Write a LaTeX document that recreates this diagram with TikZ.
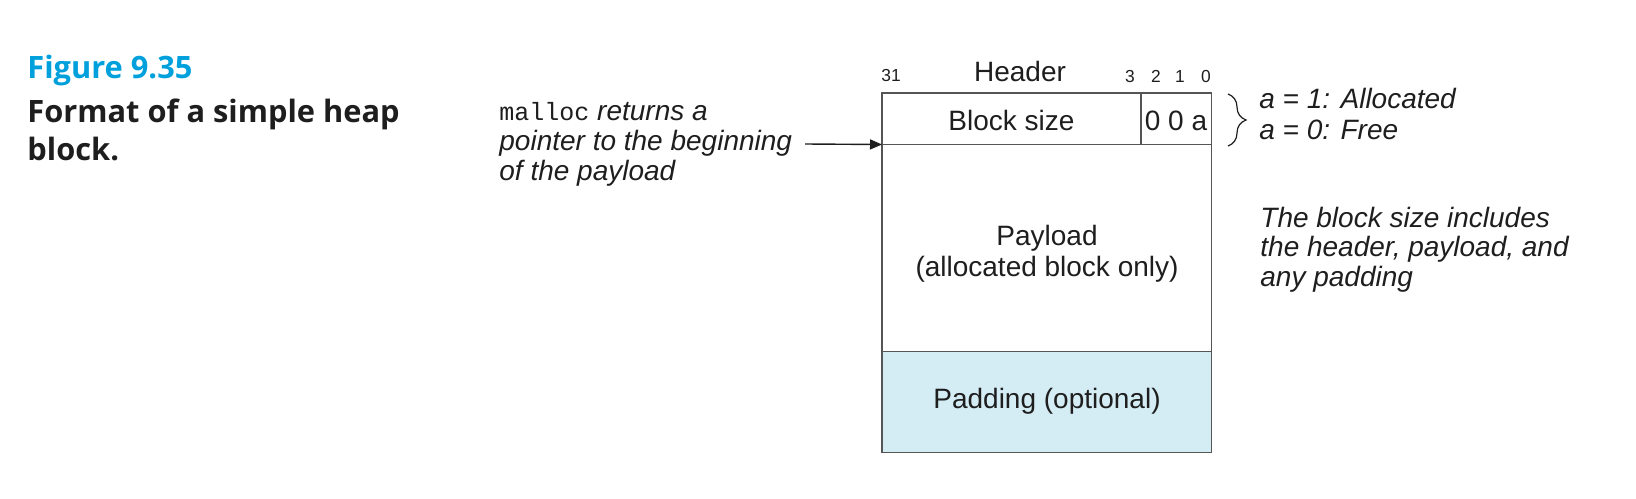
\documentclass[tikz,border=0pt]{standalone}
\usepackage{fontspec}
\setmainfont{Liberation Sans}
\newfontfamily\capfont{Open Sans}
\newfontfamily\codefont{Liberation Mono}
\usetikzlibrary{arrows.meta,decorations.pathreplacing}
\definecolor{capcyan}{RGB}{0,160,220}
\definecolor{padblue}{RGB}{212,236,244}
\definecolor{boxline}{RGB}{85,85,85}
\definecolor{ink}{RGB}{30,30,30}
\begin{document}
\begin{tikzpicture}[x=0.5pt,y=-0.5pt,
  txt/.style={font=\fontsize{14}{17}\selectfont, text=ink, inner sep=0pt},
  itx/.style={font=\fontsize{14}{17}\selectfont\itshape, text=ink, inner sep=0pt},
  small/.style={font=\fontsize{8.7}{10}\selectfont, text=ink, inner sep=0pt},
  captxt/.style={font=\capfont\bfseries\fontsize{15.4}{18}\selectfont, inner sep=0pt, anchor=base west},
  boxstyle/.style={draw=boxline, line width=0.7pt},
  ptr/.style={draw=ink, line width=0.7pt, -{Triangle[length=6pt,width=5pt]}},
  bracestyle/.style={draw=ink, line width=0.6pt, decorate, decoration={brace, amplitude=9pt}}]
\useasboundingbox (0,0) rectangle (1636,498);

% caption
\node[captxt, text=capcyan] (fig) at (27,78) {Figure 9.35};
\node[captxt, text=ink] (cap1) at (27,122) {Format of a simple heap};
\node[captxt, text=ink] (cap2) at (27,160) {block.};

% block
\fill[padblue] (882,351.5) rectangle (1211.5,452.5);
\draw[boxstyle] (882,93) rectangle (1211.5,452.5);
\draw[boxstyle] (882,144.5) -- (1211.5,144.5);
\draw[boxstyle] (882,351.5) -- (1211.5,351.5);
\draw[boxstyle] (1141,93) -- (1141,144.5);
\coordinate (hbl) at (882,144.5);

% header labels
\node[small, anchor=base] (b31) at (891,81) {31};
\node[txt, anchor=base] (hdr) at (1020,81) {Header};
\node[small, anchor=base] (b3) at (1130,82) {3};
\node[small, anchor=base] (b2) at (1156,82) {2};
\node[small, anchor=base] (b1) at (1180,82) {1};
\node[small, anchor=base] (b0) at (1206,82) {0};

\node[txt, anchor=base] (bsize) at (1011.5,130) {Block size};
\node[txt, anchor=base] (bits) at (1176,130) {0 0 a};
\node[txt, anchor=base] (pay1) at (1047,245) {Payload};
\node[txt, anchor=base] (pay2) at (1047,276) {(allocated block only)};
\node[txt, anchor=base] (pad) at (1047,408) {Padding (optional)};

% brace and flags
\draw[bracestyle] (1228,94) -- (1228,146);
\node[itx, anchor=base west] (a1) at (1259,108) {a = 1: Allocated};
\node[itx, anchor=base west] (a0) at (1259,139) {a = 0: Free};

% malloc note
\node[itx, anchor=base west] (m1) at (499,120) {{\upshape\codefont\fontsize{12.5}{15}\selectfont malloc} returns a};
\node[itx, anchor=base west] (m2) at (499,150) {pointer to the beginning};
\node[itx, anchor=base west] (m3) at (499,180) {of the payload};
\coordinate (ast) at (805,144);
\draw[ptr] (ast) -- (hbl);

% size note
\node[itx, anchor=base west] (n1) at (1260,227) {The block size includes};
\node[itx, anchor=base west] (n2) at (1260,256.5) {the header, payload, and};
\node[itx, anchor=base west] (n3) at (1260,286) {any padding};
\end{tikzpicture}
\end{document}
